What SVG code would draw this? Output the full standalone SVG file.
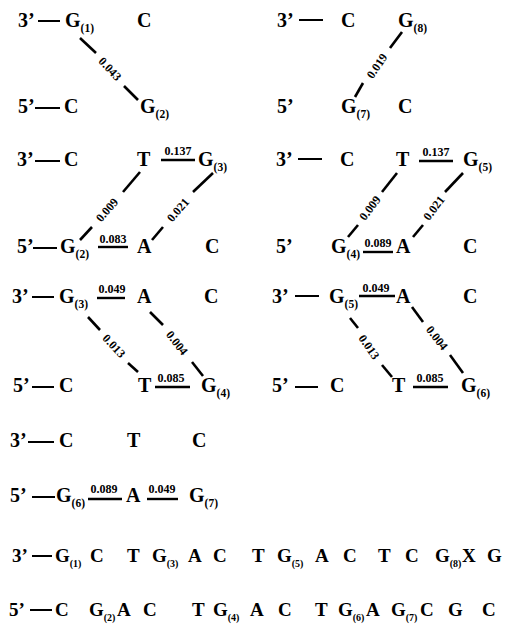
<svg xmlns="http://www.w3.org/2000/svg" width="505" height="625" viewBox="0 0 505 625">
<style>
text{font-family:"Liberation Serif","Times New Roman",serif;font-weight:bold;fill:#000}
.b{font-size:20px}
.q{font-size:19px}
.s{font-size:11.5px}
.t{font-size:10px}
.n{font-size:12px;text-anchor:middle}
line{stroke:#000;stroke-linecap:butt}
.d{stroke-width:2.6}
.h{stroke-width:2.4}
.e{stroke-width:2}
</style>
<rect width="505" height="625" fill="#fff"/>
<!-- Panel 1 -->
<g id="panel1">
<g id="p1-3end"><text class="b" x="18" y="27">3’</text></g>
<g id="p1-G1"><text class="b" x="65" y="27">G<tspan class="s" dy="5">(1)</tspan></text></g>
<g id="p1-C-top"><text class="b" x="137" y="27">C</text></g>
<g id="p1-5end"><text class="b" x="18" y="113">5’</text></g>
<g id="p1-C-bot"><text class="b" x="64" y="113">C</text></g>
<g id="p1-G2"><text class="b" x="140" y="113">G<tspan class="s" dy="5">(2)</tspan></text></g>
</g>
<!-- Panel 2 -->
<g id="panel2">
<g id="p2-3end"><text class="b" x="277" y="27">3’</text></g>
<g id="p2-C-top"><text class="b" x="341" y="27">C</text></g>
<g id="p2-G8"><text class="b" x="398" y="27">G<tspan class="s" dy="5">(8)</tspan></text></g>
<g id="p2-5end"><text class="b" x="277" y="113">5’</text></g>
<g id="p2-G7"><text class="b" x="341" y="113">G<tspan class="s" dy="5">(7)</tspan></text></g>
<g id="p2-C-bot"><text class="b" x="398" y="113">C</text></g>
</g>
<!-- Panel 3 -->
<g id="panel3">
<g id="p3-3end"><text class="b" x="17" y="166">3’</text></g>
<g id="p3-C-top"><text class="b" x="64" y="166">C</text></g>
<g id="p3-T"><text class="b" x="137" y="166">T</text></g>
<g id="p3-G3"><text class="b" x="198" y="166">G<tspan class="s" dy="5">(3)</tspan></text></g>
<g id="p3-5end"><text class="b" x="17" y="253">5’</text></g>
<g id="p3-G2"><text class="b" x="60" y="253">G<tspan class="s" dy="5">(2)</tspan></text></g>
<g id="p3-A"><text class="b" x="137" y="253">A</text></g>
<g id="p3-C-bot"><text class="b" x="205" y="253">C</text></g>
</g>
<!-- Panel 4 -->
<g id="panel4">
<g id="p4-3end"><text class="b" x="276" y="166">3’</text></g>
<g id="p4-C-top"><text class="b" x="340" y="166">C</text></g>
<g id="p4-T"><text class="b" x="396" y="166">T</text></g>
<g id="p4-G5"><text class="b" x="463" y="166">G<tspan class="s" dy="5">(5)</tspan></text></g>
<g id="p4-5end"><text class="b" x="276" y="253">5’</text></g>
<g id="p4-G4"><text class="b" x="331" y="253">G<tspan class="s" dy="5">(4)</tspan></text></g>
<g id="p4-A"><text class="b" x="396" y="253">A</text></g>
<g id="p4-C-bot"><text class="b" x="463" y="253">C</text></g>
</g>
<!-- Panel 5 -->
<g id="panel5">
<g id="p5-3end"><text class="b" x="12" y="303">3’</text></g>
<g id="p5-G3"><text class="b" x="59" y="303">G<tspan class="s" dy="5">(3)</tspan></text></g>
<g id="p5-A"><text class="b" x="137" y="303">A</text></g>
<g id="p5-C-top"><text class="b" x="204" y="303">C</text></g>
<g id="p5-5end"><text class="b" x="13" y="392">5’</text></g>
<g id="p5-C-bot"><text class="b" x="59" y="392">C</text></g>
<g id="p5-T"><text class="b" x="138" y="392">T</text></g>
<g id="p5-G4"><text class="b" x="201" y="392">G<tspan class="s" dy="5">(4)</tspan></text></g>
</g>
<!-- Panel 6 -->
<g id="panel6">
<g id="p6-3end"><text class="b" x="272" y="303">3’</text></g>
<g id="p6-G5"><text class="b" x="329" y="303">G<tspan class="s" dy="5">(5)</tspan></text></g>
<g id="p6-A"><text class="b" x="396" y="303">A</text></g>
<g id="p6-C-top"><text class="b" x="463" y="303">C</text></g>
<g id="p6-5end"><text class="b" x="272" y="392">5’</text></g>
<g id="p6-C-bot"><text class="b" x="330" y="392">C</text></g>
<g id="p6-T"><text class="b" x="392" y="392">T</text></g>
<g id="p6-G6"><text class="b" x="461" y="392">G<tspan class="s" dy="5">(6)</tspan></text></g>
</g>
<!-- Panel 7 -->
<g id="panel7">
<g id="p7-3end"><text class="b" x="10" y="447">3’</text></g>
<g id="p7-C1"><text class="b" x="59" y="447">C</text></g>
<g id="p7-T"><text class="b" x="127" y="447">T</text></g>
<g id="p7-C2"><text class="b" x="192" y="447">C</text></g>
<g id="p7-5end"><text class="b" x="10" y="502">5’</text></g>
<g id="p7-G6"><text class="b" x="56" y="502">G<tspan class="s" dy="5">(6)</tspan></text></g>
<g id="p7-A"><text class="b" x="126" y="502">A</text></g>
<g id="p7-G7"><text class="b" x="189" y="502">G<tspan class="s" dy="5">(7)</tspan></text></g>
</g>
<!-- Full sequence -->
<g id="sequence">
<g id="s-3end"><text class="q" x="12" y="562">3’</text></g>
<g id="s3-1"><text class="q" x="55" y="562">G<tspan class="t" dy="5">(1)</tspan></text></g>
<g id="s3-2"><text class="q" x="90" y="562">C</text></g>
<g id="s3-3"><text class="q" x="127" y="562">T</text></g>
<g id="s3-4"><text class="q" x="152" y="562">G<tspan class="t" dy="5">(3)</tspan></text></g>
<g id="s3-5"><text class="q" x="188" y="562">A</text></g>
<g id="s3-6"><text class="q" x="213" y="562">C</text></g>
<g id="s3-7"><text class="q" x="252" y="562">T</text></g>
<g id="s3-8"><text class="q" x="277" y="562">G<tspan class="t" dy="5">(5)</tspan></text></g>
<g id="s3-9"><text class="q" x="315" y="562">A</text></g>
<g id="s3-10"><text class="q" x="343" y="562">C</text></g>
<g id="s3-11"><text class="q" x="378" y="562">T</text></g>
<g id="s3-12"><text class="q" x="405" y="562">C</text></g>
<g id="s3-13"><text class="q" x="435" y="562">G<tspan class="t" dy="5">(8)</tspan></text></g>
<g id="s3-14"><text class="q" x="462" y="562">X</text></g>
<g id="s3-15"><text class="q" x="487" y="562">G</text></g>
<g id="s-5end"><text class="q" x="9" y="616">5’</text></g>
<g id="s5-1"><text class="q" x="55" y="616">C</text></g>
<g id="s5-2"><text class="q" x="89" y="616">G<tspan class="t" dy="5">(2)</tspan></text></g>
<g id="s5-3"><text class="q" x="117" y="616">A</text></g>
<g id="s5-4"><text class="q" x="143" y="616">C</text></g>
<g id="s5-5"><text class="q" x="192" y="616">T</text></g>
<g id="s5-6"><text class="q" x="213" y="616">G<tspan class="t" dy="5">(4)</tspan></text></g>
<g id="s5-7"><text class="q" x="250" y="616">A</text></g>
<g id="s5-8"><text class="q" x="278" y="616">C</text></g>
<g id="s5-9"><text class="q" x="315" y="616">T</text></g>
<g id="s5-10"><text class="q" x="338" y="616">G<tspan class="t" dy="5">(6)</tspan></text></g>
<g id="s5-11"><text class="q" x="366" y="616">A</text></g>
<g id="s5-12"><text class="q" x="391" y="616">G<tspan class="t" dy="5">(7)</tspan></text></g>
<g id="s5-13"><text class="q" x="420" y="616">C</text></g>
<g id="s5-14"><text class="q" x="448" y="616">G</text></g>
<g id="s5-15"><text class="q" x="482" y="616">C</text></g>
</g>
<!-- Connectors -->
<g id="connectors">
<!-- strand end dashes -->
<line class="e" x1="38" y1="21" x2="60" y2="21"/>
<line class="e" x1="35" y1="108" x2="60" y2="108"/>
<line class="e" x1="299" y1="20" x2="323" y2="20"/>
<line class="e" x1="35" y1="161" x2="60" y2="161"/>
<line class="e" x1="33" y1="248" x2="57" y2="248"/>
<line class="e" x1="298" y1="159" x2="322" y2="159"/>
<line class="e" x1="32" y1="297" x2="54" y2="297"/>
<line class="e" x1="32" y1="387" x2="54" y2="387"/>
<line class="e" x1="295" y1="296" x2="319" y2="296"/>
<line class="e" x1="295" y1="387" x2="318" y2="387"/>
<line class="e" x1="28" y1="442" x2="54" y2="442"/>
<line class="e" x1="32" y1="497" x2="55" y2="497"/>
<line class="e" x1="32" y1="556" x2="52" y2="556"/>
<line class="e" x1="30" y1="610" x2="52" y2="610"/>
<!-- panel 1 -->
<line class="d" x1="80" y1="38" x2="96" y2="53"/>
<line class="d" x1="124" y1="86" x2="138" y2="100"/>
<text class="n" transform="translate(110,69) rotate(47)" y="4">0.043</text>
<!-- panel 2 -->
<line class="d" x1="402" y1="32" x2="390" y2="48"/>
<line class="d" x1="363" y1="83" x2="355" y2="97"/>
<text class="n" transform="translate(377,66) rotate(-56)" y="4">0.019</text>
<!-- panel 3 -->
<line class="h" x1="161" y1="160" x2="195" y2="160"/>
<text class="n" x="178" y="155">0.137</text>
<line class="h" x1="98" y1="247" x2="128" y2="247"/>
<text class="n" x="113" y="243">0.083</text>
<line class="d" x1="80" y1="240" x2="92" y2="227"/>
<line class="d" x1="123" y1="192" x2="140" y2="172"/>
<text class="n" transform="translate(107,210) rotate(-49)" y="4">0.009</text>
<line class="d" x1="152" y1="240" x2="163" y2="227"/>
<line class="d" x1="193" y1="192" x2="213" y2="173"/>
<text class="n" transform="translate(178,210) rotate(-49)" y="4">0.021</text>
<!-- panel 4 -->
<line class="h" x1="419" y1="161" x2="453" y2="161"/>
<text class="n" x="436" y="156">0.137</text>
<line class="h" x1="363" y1="252" x2="393" y2="252"/>
<text class="n" x="378" y="247">0.089</text>
<line class="d" x1="348" y1="237" x2="358" y2="225"/>
<line class="d" x1="382" y1="192" x2="397" y2="173"/>
<text class="n" transform="translate(370,208) rotate(-53)" y="4">0.009</text>
<line class="d" x1="413" y1="237" x2="423" y2="225"/>
<line class="d" x1="445" y1="192" x2="463" y2="173"/>
<text class="n" transform="translate(434,208) rotate(-53)" y="4">0.021</text>
<!-- panel 5 -->
<line class="h" x1="97" y1="298" x2="125" y2="298"/>
<text class="n" x="112" y="293">0.049</text>
<line class="h" x1="155" y1="387" x2="190" y2="387"/>
<text class="n" x="171" y="382">0.085</text>
<line class="d" x1="88" y1="317" x2="100" y2="330"/>
<line class="d" x1="128" y1="363" x2="138" y2="372"/>
<text class="n" transform="translate(114,346) rotate(47)" y="4">0.013</text>
<line class="d" x1="150" y1="312" x2="163" y2="325"/>
<line class="d" x1="192" y1="362" x2="203" y2="376"/>
<text class="n" transform="translate(177,343) rotate(52)" y="4">0.004</text>
<!-- panel 6 -->
<line class="h" x1="359" y1="296" x2="395" y2="296"/>
<text class="n" x="376" y="292">0.049</text>
<line class="h" x1="413" y1="387" x2="448" y2="387"/>
<text class="n" x="430" y="382">0.085</text>
<line class="d" x1="350" y1="318" x2="358" y2="328"/>
<line class="d" x1="382" y1="365" x2="392" y2="377"/>
<text class="n" transform="translate(369,347) rotate(55)" y="4">0.013</text>
<line class="d" x1="412" y1="307" x2="423" y2="322"/>
<line class="d" x1="450" y1="355" x2="463" y2="373"/>
<text class="n" transform="translate(437,338) rotate(52)" y="4">0.004</text>
<!-- panel 7 -->
<line class="h" x1="88" y1="499" x2="122" y2="499"/>
<text class="n" x="104" y="493">0.089</text>
<line class="h" x1="147" y1="499" x2="178" y2="499"/>
<text class="n" x="162" y="493">0.049</text>
</g>
</svg>
